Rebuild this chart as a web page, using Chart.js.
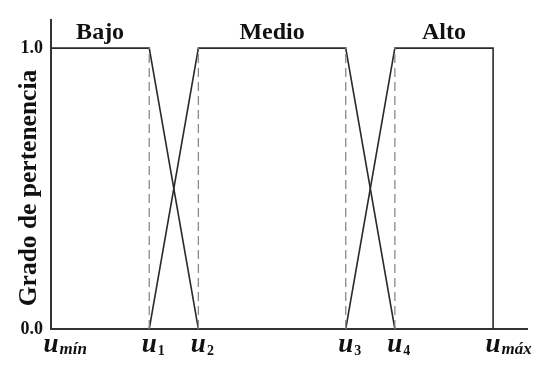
<!DOCTYPE html>
<html><head><meta charset="utf-8">
<script src="https://cdn.jsdelivr.net/npm/chart.js@4.4.0/dist/chart.umd.min.js"></script>
<style>html,body{margin:0;padding:0;background:#fff;}#wrap{width:548px;height:367px;}</style>
</head><body><div id="wrap"><canvas id="c" width="548" height="367"></canvas></div>
<script>
// ---- data ----
const setNames = ['Bajo', 'Medio', 'Alto'];
const bajoX = [0, 2, 3];       const bajoY = [1, 1, 0];
const medioX = [2, 3, 6, 7];   const medioY = [0, 1, 1, 0];
const altoX = [6, 7, 9, 9];    const altoY = [0, 1, 1, 0];
const uValues = [0, 2, 3, 6, 7, 9];
const uSubs = ['mín', '1', '2', '3', '4', 'máx'];
const guideX = [2, 3, 6, 7];
const yTicks = [0, 1];
const yTickLabels = ['0.0', '1.0'];
const yTitle = 'Grado de pertenencia';

const SERIF = '"Liberation Serif", "Times New Roman", serif';
const toPts = (xs, ys) => xs.map((x, i) => ({x: x, y: ys[i]}));

const datasets = [];
guideX.forEach(g => datasets.push({
  data: toPts([g, g], [0, 1]), borderColor: '#8a8a8a', borderWidth: 1.3,
  borderDash: [9, 5], pointRadius: 0, showLine: true, fill: false
}));
[[bajoX, bajoY], [medioX, medioY], [altoX, altoY]].forEach(([xs, ys], i) => datasets.push({
  label: setNames[i], data: toPts(xs, ys), borderColor: '#2a2a2a', borderWidth: 1.6,
  pointRadius: 0, showLine: true, fill: false, tension: 0
}));

const labelPlugin = {
  id: 'labels',
  afterDraw(chart) {
    const ctx = chart.ctx, xs = chart.scales.x, ys = chart.scales.y;
    ctx.save();
    ctx.fillStyle = '#111';
    [[bajoX, bajoY], [medioX, medioY], [altoX, altoY]].forEach(([xv, yv], i) => {
      const top = xv.filter((x, k) => yv[k] === 1);
      const mid = (Math.min(...top) + Math.max(...top)) / 2;
      ctx.font = 'bold 24px ' + SERIF;
      ctx.textAlign = 'center'; ctx.textBaseline = 'alphabetic';
      ctx.fillText(setNames[i], xs.getPixelForValue(mid), ys.getPixelForValue(1) - 9);
    });
    uValues.forEach((v, i) => {
      const px = xs.getPixelForValue(v);
      ctx.font = 'italic bold 27px ' + SERIF;
      ctx.textAlign = 'center'; ctx.textBaseline = 'alphabetic';
      const w = ctx.measureText('u').width;
      ctx.fillText('u', px, 352);
      const isWord = uSubs[i].length > 1;
      ctx.font = (isWord ? 'italic bold 17px ' : 'bold 14px ') + SERIF;
      ctx.textAlign = 'left';
      ctx.fillText(uSubs[i], px + w / 2 + 1, isWord ? 353.5 : 355);
    });
    ctx.translate(29, 188);
    ctx.rotate(-Math.PI / 2);
    ctx.font = 'bold 25.5px ' + SERIF;
    ctx.textAlign = 'center'; ctx.textBaseline = 'middle';
    ctx.fillText(yTitle, 0, 0);
    ctx.restore();
  }
};

new Chart(document.getElementById('c'), {
  type: 'scatter',
  data: { datasets: datasets },
  options: {
    responsive: false, animation: false, devicePixelRatio: 1,
    layout: { padding: { top: 20, right: 21, left: 0, bottom: 0 } },
    plugins: { legend: { display: false }, tooltip: { enabled: false } },
    scales: {
      x: {
        type: 'linear', min: 0, max: 9.69,
        grid: { display: false, drawTicks: false },
        border: { display: true, color: '#333', width: 2 },
        ticks: { display: false },
        afterFit(s) { s.height = 38; }
      },
      y: {
        type: 'linear', min: 0, max: 1.1,
        grid: { display: false, drawTicks: false },
        border: { display: true, color: '#333', width: 2 },
        afterBuildTicks(s) { s.ticks = yTicks.map(v => ({ value: v })); },
        ticks: {
          padding: 8, color: '#111',
          font: { family: SERIF, size: 18, weight: 'bold' },
          callback: (v) => yTickLabels[yTicks.indexOf(v)]
        },
        afterFit(s) { s.width = 51; }
      }
    }
  },
  plugins: [labelPlugin]
});
</script></body></html>
